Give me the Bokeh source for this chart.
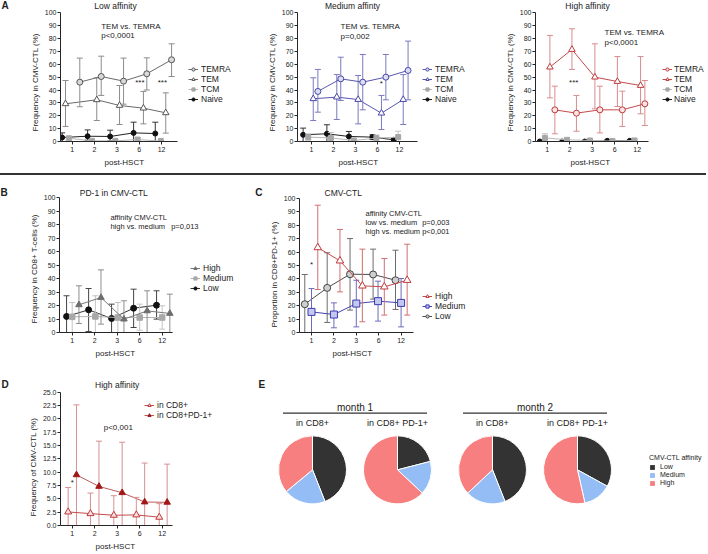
import numpy as np
from bokeh.plotting import figure
from bokeh.models import (Range1d, FixedTicker, Label, Legend, LegendItem, Title, Div,
                          FactorRange, PrintfTickFormatter)
from bokeh.layouts import row, column
from bokeh.embed import file_html
from bokeh.resources import INLINE
from bokeh.core.properties import value

FONT = "Liberation Sans"
TXT = "#222222"

# ------------------------------------------------------------------ data
TIME = ["1", "2", "3", "6", "12"]

# A - Low affinity
LOW_TEMRA = [46.1, 50.5, 46.9, 52.6, 63.5]
LOW_TEMRA_LO = [27.0, 35.8, 29.0, 40.0, 50.5]
LOW_TEMRA_HI = [64.8, 66.3, 64.8, 65.0, 75.9]
LOW_TEM = [29.3, 32.4, 28.0, 25.9, 22.3]
LOW_TEM_LO = [11.7, 16.3, 13.2, 13.7, 6.5]
LOW_TEM_HI = [47.4, 49.5, 43.5, 38.9, 37.8]
LOW_TCM = [2.5, 0.5, 0.5, 1.5, 0.3]
LOW_TCM_LO = [0.5, 0.0, 0.0, 0.0, 0.0]
LOW_TCM_HI = [4.0, 1.5, 1.5, 3.0, 1.0]
LOW_NAIVE = [3.1, 4.1, 3.9, 6.7, 6.2]
LOW_NAIVE_LO = [0.0, 1.0, 0.5, 0.0, 0.0]
LOW_NAIVE_HI = [6.7, 9.0, 8.8, 15.0, 15.0]

# A - Medium affinity
MED_TEMRA = [38.9, 48.7, 46.1, 50.0, 55.2]
MED_TEMRA_LO = [22.8, 31.9, 24.6, 32.4, 32.4]
MED_TEMRA_HI = [56.0, 65.5, 67.6, 67.6, 78.0]
MED_TEM = [33.2, 34.5, 32.6, 22.0, 32.6]
MED_TEM_LO = [16.3, 17.1, 13.7, 9.3, 13.2]
MED_TEM_HI = [49.5, 52.0, 51.3, 35.8, 52.0]
MED_TCM = [3.4, 2.8, 0.8, 2.6, 3.4]
MED_TCM_LO = [1.0, 0.0, 0.0, 0.0, 0.0]
MED_TCM_HI = [6.0, 7.0, 2.0, 5.0, 8.0]
MED_NAIVE = [5.2, 6.0, 3.9, 3.4, 1.3]
MED_NAIVE_LO = [0.0, 0.0, 0.0, 1.5, 0.0]
MED_NAIVE_HI = [10.4, 13.0, 7.8, 5.2, 2.6]

# A - High affinity
HIGH_TEMRA = [24.6, 22.0, 24.6, 24.6, 29.3]
HIGH_TEMRA_LO = [6.0, 8.0, 6.7, 11.7, 12.4]
HIGH_TEMRA_HI = [43.0, 35.8, 43.0, 39.1, 47.4]
HIGH_TEM = [57.8, 71.5, 50.0, 46.6, 43.5]
HIGH_TEM_LO = [33.9, 56.0, 25.4, 27.2, 21.5]
HIGH_TEM_HI = [82.4, 87.6, 75.9, 66.0, 66.0]
HIGH_TCM = [2.8, 1.3, 0.8, 0.3, 0.8]
HIGH_TCM_LO = [0.0, 0.0, 0.0, 0.0, 0.0]
HIGH_TCM_HI = [6.0, 2.0, 1.5, 1.0, 1.5]
HIGH_NAIVE = [0.0, 0.0, 0.0, 0.5, 0.5]
HIGH_NAIVE_LO = [0.0, 0.0, 0.0, 0.0, 0.0]
HIGH_NAIVE_HI = [0.0, 0.0, 0.0, 1.0, 1.0]

# B - PD-1 in CMV-CTL
PD1_HIGH = [20.5, 25.9, 9.9, 16.0, 14.1]
PD1_HIGH_LO = [6.7, 6.2, 0.0, 0.0, 0.0]
PD1_HIGH_HI = [34.6, 46.4, 23.5, 30.9, 28.4]
PD1_MED = [11.6, 11.9, 11.1, 11.1, 11.1]
PD1_MED_LO = [0.0, 0.0, 0.0, 1.7, 2.5]
PD1_MED_HI = [22.2, 27.2, 22.2, 21.0, 19.8]
PD1_LOW = [11.9, 16.8, 10.4, 18.0, 20.2]
PD1_LOW_LO = [0.0, 0.7, 0.0, 3.7, 9.9]
PD1_LOW_HI = [27.2, 32.6, 21.0, 32.1, 30.9]

# C - CMV-CTL proportion in CD8+PD-1+
PROP_HIGH = [63.4, 53.5, 34.8, 34.1, 39.0]
PROP_HIGH_LO = [32.1, 30.3, 8.0, 13.0, 13.0]
PROP_HIGH_HI = [95.0, 76.9, 62.2, 55.2, 65.9]
PROP_MED = [15.4, 13.4, 21.6, 23.4, 22.1]
PROP_MED_LO = [0.0, 3.5, 4.2, 8.5, 4.2]
PROP_MED_HI = [32.8, 22.1, 39.0, 38.3, 40.3]
PROP_LOW = [21.1, 33.3, 43.5, 43.3, 39.0]
PROP_LOW_LO = [0.0, 7.5, 16.7, 24.9, 17.2]
PROP_LOW_HI = [43.3, 59.5, 70.1, 62.2, 61.4]

# D - High affinity frequency
HA_CD8 = [2.54, 2.23, 1.92, 1.99, 1.55]
HA_CD8_LO = [0.0, 0.0, 0.0, 0.0, 0.0]
HA_CD8_HI = [7.13, 6.08, 5.58, 5.27, 4.09]
HA_PD1 = [9.49, 7.32, 6.14, 4.40, 4.34]
HA_PD1_LO = [0.0, 0.0, 0.0, 0.0, 0.0]
HA_PD1_HI = [22.6, 15.8, 15.6, 11.7, 11.5]

# E - pie charts (fractions Low / Medium / High)
MONTHS = ["month 1", "month 2"]
SUBSETS = ["in CD8+", "in CD8+ PD-1+"]
AFFINITY = ["Low", "Medium", "High"]
PIE_LOW = [0.44, 0.21, 0.44, 0.33]
PIE_MED = [0.20, 0.16, 0.19, 0.135]
PIE_HIGH = [0.36, 0.63, 0.37, 0.535]

# ------------------------------------------------------------------ dodge offsets (layout)
DX = {
    "low": {"TEMRA": [0.34, 0.30, 0.30, 0.34, 0.45], "TEM": [-0.30, 0.10, 0.12, 0.19, 0.19],
            "TCM": [-0.15, -0.12, -0.07, -0.07, -0.03], "Naive": [-0.45, -0.31, -0.30, -0.25, -0.28]},
    "med": {"TEMRA": [0.29, 0.33, 0.33, 0.38, 0.39], "TEM": [0.08, 0.15, 0.12, 0.18, 0.17],
            "TCM": [-0.15, -0.12, -0.08, -0.05, -0.06], "Naive": [-0.38, -0.30, -0.30, -0.23, -0.26]},
    "high": {"TEMRA": [0.34, 0.30, 0.34, 0.34, 0.34], "TEM": [0.12, 0.10, 0.12, 0.12, 0.15],
             "TCM": [-0.10, -0.12, -0.10, -0.10, -0.12], "Naive": [-0.33, -0.33, -0.33, -0.33, -0.33]},
    "pd1": {"High": [0.30, 0.28, 0.30, 0.33, 0.34], "Medium": [0.0, 0.03, 0.03, 0.0, 0.0],
            "Low": [-0.25, -0.27, -0.25, -0.27, -0.25]},
    "prop": {"High": [0.28, 0.27, 0.27, 0.25, 0.27], "Medium": [0.0, 0.0, 0.0, -0.03, 0.0],
             "Low": [-0.30, -0.30, -0.28, -0.25, -0.25]},
    "ha": {"in CD8+": [-0.18, -0.19, -0.15, -0.15, -0.13], "in CD8+PD-1+": [0.19, 0.19, 0.22, 0.22, 0.22]},
}
TPOS = np.arange(1, len(TIME) + 1)


def label(p, x, y, text, size="8px", align="left", units="data", bold=False, baseline="middle"):
    p.add_layout(Label(x=x, y=y, x_units=units, y_units=units, text=text, text_font=FONT,
                       text_font_size=size, text_align=align, text_baseline=baseline,
                       text_color=TXT, text_font_style="bold" if bold else "normal"))


def blank_fig(W, H, bottom, x_range=None, y_range=None):
    p = figure(width=W, height=H, output_backend="svg", toolbar_location=None, title=None,
               x_axis_location=None, y_axis_location=None,
               min_border_left=0, min_border_right=0, min_border_top=0, min_border_bottom=bottom,
               x_range=x_range if x_range is not None else Range1d(0, 1),
               y_range=y_range if y_range is not None else Range1d(0, 1))
    p.outline_line_color = None
    p.xgrid.visible = False
    p.ygrid.visible = False
    return p


def letter_fig(W, H, bottom, text, x, ytop, align="left"):
    p = blank_fig(W, H, bottom)
    label(p, x, (H - bottom) - ytop, text, size="10px", align=align, units="screen", bold=True)
    return p


def ttl(text, align, offset, size="8px", standoff=3):
    return Title(text=text, align=align, offset=offset, standoff=standoff, text_font=FONT,
                 text_font_size=size, text_font_style="normal", text_color=TXT)


def line_panel(W, H, fl, fh, xr0, xsp, xend, ypx, ymax, ystep, ylabel, xl_off, yl_off, fmt=None):
    fw = W - fl
    p = figure(width=W, height=H, x_range=Range1d(xr0, xr0 + fw / xsp),
               y_range=Range1d(0, fh / ypx),
               output_backend="svg", toolbar_location=None, title=None,
               min_border_left=fl, min_border_top=0, min_border_right=0,
               min_border_bottom=H - fh)
    p.outline_line_color = None
    p.xgrid.visible = False
    p.ygrid.visible = False
    xa, ya = p.xaxis[0], p.yaxis[0]
    xa.ticker = FixedTicker(ticks=[int(t) for t in TPOS])
    xa.major_label_overrides = {int(i): t for i, t in zip(TPOS, TIME)}
    xa.bounds = (xr0, xend)
    ya.ticker = FixedTicker(ticks=list(np.round(np.arange(0, ymax + 1e-9, ystep), 3)))
    ya.bounds = (0, ymax)
    if fmt:
        ya.formatter = PrintfTickFormatter(format=fmt)
    for ax in (xa, ya):
        ax.axis_line_color = "#262626"
        ax.axis_line_width = 1
        ax.major_tick_line_color = "#262626"
        ax.major_tick_out = 3
        ax.major_tick_in = 0
        ax.minor_tick_out = 0
        ax.minor_tick_in = 0
        ax.major_label_text_font = FONT
        ax.major_label_text_font_size = "7px"
        ax.major_label_text_color = TXT
    xa.major_label_standoff = 2
    ya.major_label_standoff = 1
    p.add_layout(ttl("post-HSCT", "left", xl_off), "below")
    p.add_layout(ttl(ylabel, "left", yl_off), "left")
    return p


def series(p, dx, y, lo, hi, marker, size, mline, mfill, lcol, ecol):
    xs = list(TPOS + np.array(dx))
    p.segment(x0=xs, y0=lo, x1=xs, y1=hi, line_color=ecol, line_width=1)
    p.scatter(x=xs, y=hi, marker="dash", size=6, line_color=ecol, line_width=1)
    p.scatter(x=xs, y=lo, marker="dash", size=6, line_color=ecol, line_width=1)
    lr = p.line(x=xs, y=y, line_color=lcol, line_width=1)
    mr = p.scatter(x=xs, y=y, marker=marker, size=size, line_color=mline, fill_color=mfill, line_width=1)
    return lr, mr


def legend(p, items, loc, size="8.5px", row_h=8, spacing=0, standoff=3):
    lg = Legend(items=[LegendItem(label=n, renderers=list(r)) for n, r in items], location=loc,
                orientation="vertical", border_line_color=None, background_fill_alpha=0,
                label_text_font=FONT, label_text_font_size=size, label_text_color=TXT,
                glyph_width=10, glyph_height=row_h, label_height=row_h, spacing=spacing,
                padding=0, margin=0, label_standoff=standoff)
    p.add_layout(lg)


# ------------------------------------------------------------------ A panels
A_H, A_FH, A_YPX = 173, 141, 1.287


def a_panel(W, fl, xr0, xsp, xend, key, title, tx, data, colors, leg_loc, texts, xl_off,
            leg_standoff=3):
    p = line_panel(W, A_H, fl, A_FH, xr0, xsp, xend, A_YPX, 100, 10, "Frequency in CMV-CTL  (%)",
                   xl_off, 10)
    c_main, c_line, c_err, c_fill = colors
    spec = [
        ("TEMRA", "circle", 6, c_main, c_fill, c_line, c_err),
        ("TEM", "triangle", 6.5, c_main, "white", c_line, c_err),
        ("TCM", "square", 5, "#a6a6a6", "#a6a6a6", "#b8b8b8", "#c2c2c2"),
        ("Naive", "circle", 5, "#111111", "#111111", "#222222", "#333333"),
    ]
    rends = {}
    for name, mk, sz, ml, mf, lc, ec in spec[::-1]:
        y, lo, hi = data[name]
        rends[name] = series(p, DX[key][name], y, lo, hi, mk, sz, ml, mf, lc, ec)
    legend(p, [("TEMRA", rends["TEMRA"]), ("TEM", rends["TEM"]), ("TCM", rends["TCM"]),
               ("Naive", rends["Naive"])], leg_loc, standoff=leg_standoff)
    label(p, tx, A_FH - 5, title, size="8.5px", align="center", units="screen")
    for (x, y, t, al) in texts:
        label(p, x, y, t, align=al)
    return p


LA = letter_fig(12, A_H, A_H - A_FH, "A", 1, 5)

A1 = a_panel(230, 48, 0.476, 22.33, 5.716, "low", "Low affinity", 55,
             {"TEMRA": (LOW_TEMRA, LOW_TEMRA_LO, LOW_TEMRA_HI), "TEM": (LOW_TEM, LOW_TEM_LO, LOW_TEM_HI),
              "TCM": (LOW_TCM, LOW_TCM_LO, LOW_TCM_HI), "Naive": (LOW_NAIVE, LOW_NAIVE_LO, LOW_NAIVE_HI)},
             ("#555555", "#6a6a6a", "#8c8c8c", "#d9d9d9"), (128, 37),
             [(2.3, 89, "TEM vs. TEMRA", "left"), (2.3, 82.5, "p<0,0001", "left"),
              (4.03, 46, "***", "center"), (5.04, 46, "***", "center")], 44)

A2 = a_panel(232, 55, 0.364, 22.0, 5.818, "med", "Medium affinty", 55,
             {"TEMRA": (MED_TEMRA, MED_TEMRA_LO, MED_TEMRA_HI), "TEM": (MED_TEM, MED_TEM_LO, MED_TEM_HI),
              "TCM": (MED_TCM, MED_TCM_LO, MED_TCM_HI), "Naive": (MED_NAIVE, MED_NAIVE_LO, MED_NAIVE_HI)},
             ("#4848a8", "#5656b0", "#7a7ac0", "#dcdcf2"), (125, 37),
             [(2.32, 89, "TEM vs. TEMRA", "left"), (2.32, 81.5, "p=0,002", "left"),
              (4.17, 45, "*", "center")], 41)

A3 = a_panel(232, 61, 0.48, 22.5, 5.502, "high", "High affinity", 52,
             {"TEMRA": (HIGH_TEMRA, HIGH_TEMRA_LO, HIGH_TEMRA_HI), "TEM": (HIGH_TEM, HIGH_TEM_LO, HIGH_TEM_HI),
              "TCM": (HIGH_TCM, HIGH_TCM_LO, HIGH_TCM_HI), "Naive": (HIGH_NAIVE, HIGH_NAIVE_LO, HIGH_NAIVE_HI)},
             ("#c0393b", "#c44a4a", "#d88c8c", "#fbe4e4"), (127, 37),
             [(3.55, 85, "TEM vs. TEMRA", "left"), (3.55, 77.3, "p<0,0001", "left"),
              (2.18, 46, "***", "center")], 35, leg_standoff=2)

# ------------------------------------------------------------------ separator
SEP = Div(text="", width=706, height=2, margin=(0, 0, 0, 0),
          styles={"background-color": "#333333", "width": "706px", "height": "2px"})

# ------------------------------------------------------------------ B
BC_H, BC_FH = 195, 157
LB = letter_fig(12, BC_H, BC_H - BC_FH, "B", 0, 17)
B = line_panel(228, BC_H, 47, BC_FH, 0.436, 22.5, 5.458, 1.35, 100, 10, "Frequency in CD8+ T-cells (%)", 36, 9)
rb_low = series(B, DX["pd1"]["Low"], PD1_LOW, PD1_LOW_LO, PD1_LOW_HI, "circle", 6, "#111111", "#111111", "#333333", "#444444")
rb_med = series(B, DX["pd1"]["Medium"], PD1_MED, PD1_MED_LO, PD1_MED_HI, "square", 5.5, "#a8a8a8", "#a8a8a8", "#b4b4b4", "#c4c4c4")
rb_high = series(B, DX["pd1"]["High"], PD1_HIGH, PD1_HIGH_LO, PD1_HIGH_HI, "triangle", 6.5, "#6e6e6e", "#6e6e6e", "#7a7a7a", "#8e8e8e")
legend(B, [("High", rb_high), ("Medium", rb_med), ("Low", rb_low)], (131, 39))
label(B, 54.3, BC_FH - 17, "PD-1 in CMV-CTL", size="8.5px", align="center", units="screen")
label(B, 2.7, 85.2, "affinity CMV-CTL", size="7.5px")
label(B, 2.7, 78.3, "high vs. medium", size="7.5px")
label(B, 5.4, 78.3, "p=0,013", size="7.5px")

# ------------------------------------------------------------------ C
LC = letter_fig(26, BC_H, BC_H - BC_FH, "C", 18.3, 17, align="center")
C = line_panel(440, BC_H, 33, BC_FH, 0.464, 22.4, 5.553, 1.34, 100, 10, "Proportion in CD8+PD-1+ (%)", 33, 5)
rc_low = series(C, DX["prop"]["Low"], PROP_LOW, PROP_LOW_LO, PROP_LOW_HI, "circle", 7, "#444444", "#cfcfcf", "#4a4a4a", "#6c6c6c")
rc_med = series(C, DX["prop"]["Medium"], PROP_MED, PROP_MED_LO, PROP_MED_HI, "square", 7, "#3a3aae", "#c4c8f0", "#4444b0", "#6c6cbc")
rc_high = series(C, DX["prop"]["High"], PROP_HIGH, PROP_HIGH_LO, PROP_HIGH_HI, "triangle", 7.5, "#c0393b", "white", "#c44a4a", "#cf7070")
legend(C, [("High", rc_high), ("Medium", rc_med), ("Low", rc_low)], (123, 11))
label(C, 43.7, BC_FH - 17, "CMV-CTL", size="8.5px", align="center", units="screen")
label(C, 3.41, 89, "affinity CMV-CTL", size="7.5px")
label(C, 3.41, 82.3, "low vs. medium", size="7.5px")
label(C, 3.41, 75.6, "high vs. medium", size="7.5px")
label(C, 5.94, 82.3, "p=0,003", size="7.5px")
label(C, 5.94, 75.6, "p<0,001", size="7.5px")
label(C, 1.0, 51, "*", align="center")

# ------------------------------------------------------------------ D
DE_H, D_FH = 182, 156
DE_B = DE_H - D_FH
LD = letter_fig(12, DE_H, DE_B, "D", 1, 15)
D = line_panel(228, DE_H, 48, D_FH, 0.48, 22.5, 5.458, 5.372, 25, 2.5, "Frequency of CMV-CTL (%)", 35, 9, fmt="%.1f")
rd_pd1 = series(D, DX["ha"]["in CD8+PD-1+"], HA_PD1, HA_PD1_LO, HA_PD1_HI, "triangle", 6.5, "#a01818", "#a01818", "#c05a5a", "#d49090")
rd_cd8 = series(D, DX["ha"]["in CD8+"], HA_CD8, HA_CD8_LO, HA_CD8_HI, "triangle", 7, "#c0393b", "#f8dede", "#c44a4a", "#d49090")
legend(D, [("in CD8+", rd_cd8), ("in CD8+PD-1+", rd_pd1)], (84, 105))
label(D, 56.7, D_FH - 15, "High affinity", size="8.5px", align="center", units="screen")
label(D, 2.4, 18.3, "p<0,001")
label(D, 1.0, 8.1, "*", align="center")

# ------------------------------------------------------------------ E pies
FACTORS = [(m, s) for m in MONTHS for s in SUBSETS]
E = blank_fig(409, DE_H, DE_B,
              x_range=FactorRange(factors=FACTORS, factor_padding=0.0, group_padding=0.1176,
                                  range_padding=0.1686, range_padding_units="percent"),
              y_range=Range1d(-(D_FH - 100), 100))

PIE_COLORS = {"Low": "#333333", "Medium": "#93bdf4", "High": "#f77f7f"}
fracs = {"Low": PIE_LOW, "Medium": PIE_MED, "High": PIE_HIGH}
cum = np.zeros(len(FACTORS))
for aff in AFFINITY:
    f = np.array(fracs[aff])
    start = np.pi / 2 - 2 * np.pi * (cum + f)
    end = np.pi / 2 - 2 * np.pi * cum
    E.wedge(x=FACTORS, y=0, radius=34, radius_units="screen", start_angle=list(start),
            end_angle=list(end), fill_color=PIE_COLORS[aff], line_color="white", line_width=1)
    cum = cum + f

E.text(x=MONTHS, y=63, text=MONTHS, text_font=value(FONT), text_font_size="10px",
       text_align="center", text_baseline="middle", text_color=TXT)
E.rect(x=MONTHS, y=57, width=144, height=1.2, width_units="screen", height_units="screen",
       fill_color="#333333", line_color=None)
E.text(x=FACTORS, y=47, text=[f[1] for f in FACTORS], text_font=value(FONT), text_font_size="9px",
       text_align="center", text_baseline="middle", text_color=TXT)
label(E, 18, D_FH - 15, "E", size="10px", units="screen", bold=True)

# E legend (own small canvas; swatch renderers carry no drawable coordinates)
EL = blank_fig(57, DE_H, DE_B)
swatches = []
for aff in AFFINITY:
    r = EL.quad(left=[np.nan], right=[np.nan], top=[np.nan], bottom=[np.nan],
                fill_color=PIE_COLORS[aff], line_color=None)
    swatches.append((aff, r))
leg_e = Legend(items=[LegendItem(label=a, renderers=[r]) for a, r in swatches], location=(0, 39),
               title="CMV-CTL affinity", title_text_font=FONT, title_text_font_size="7px",
               title_text_font_style="normal", title_text_color=TXT, title_standoff=2,
               border_line_color=None, background_fill_alpha=0, label_text_font=FONT,
               label_text_font_size="7px", label_text_color=TXT, glyph_width=6, glyph_height=6,
               label_height=7, spacing=1, padding=0, margin=0, label_standoff=5)
EL.add_layout(leg_e)

layout = column(row(LA, A1, A2, A3), SEP, row(LB, B, LC, C), row(LD, D, E, EL))
open("out.html", "w").write(file_html(layout, INLINE))
